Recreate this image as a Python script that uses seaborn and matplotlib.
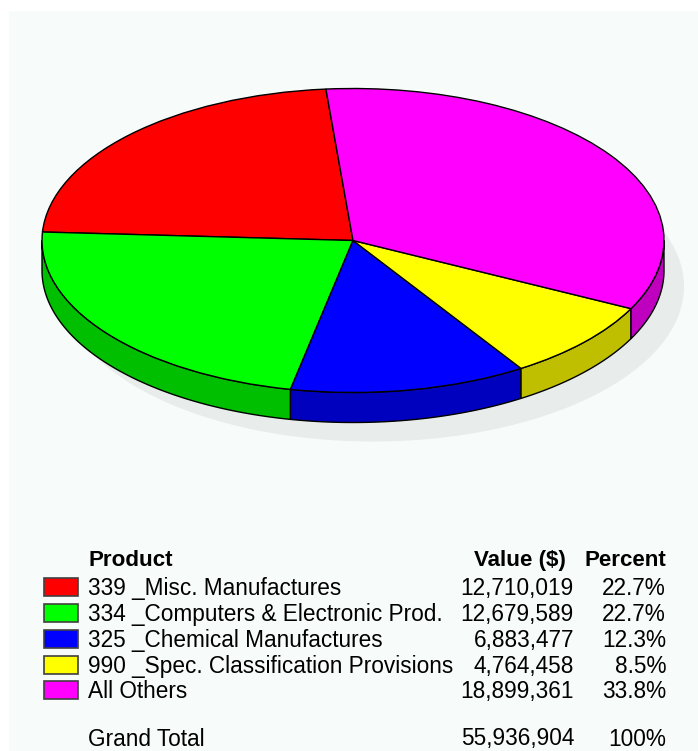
import numpy as np
import matplotlib
matplotlib.use("Agg")
import matplotlib.pyplot as plt
from matplotlib.patches import Ellipse, Polygon, Rectangle
import seaborn as sns

products = ["339 _Misc. Manufactures", "334 _Computers & Electronic Prod.",
            "325 _Chemical Manufactures", "990 _Spec. Classification Provisions",
            "All Others"]
values = [12710019, 12679589, 6883477, 4764458, 18899361]
slice_colors = ["#FF0000", "#00FF00", "#0000FF", "#FFFF00", "#FF00FF"]
headers = ["Product", "Value ($)", "Percent"]
total_label = "Grand Total"

WIDTH, HEIGHT = 698, 751
PANEL = "#F7FBF9"
SHADOW = "#E8ECEA"
START_ANGLE = 95.0
CX, CY, RX, RY = 353, 240.5, 311, 152
DEPTH = 30

sns.set_theme(style="white")
plt.rcParams["font.family"] = ["Liberation Sans", "DejaVu Sans"]
palette = sns.color_palette(slice_colors)

fig = plt.figure(figsize=(WIDTH / 100, HEIGHT / 100), dpi=100, facecolor="white")

# Page layer in pixel units: panel, legend swatches and the table text
page = fig.add_axes([0, 0, 1, 1], zorder=0)
page.set_xlim(0, WIDTH)
page.set_ylim(HEIGHT, 0)
page.axis("off")
page.add_patch(Rectangle((9, 11), WIDTH - 9, HEIGHT - 11, facecolor=PANEL, edgecolor="none"))

# Pie layer: a unit circle stretched by the axes box into a tilted ellipse
pie_ax = fig.add_axes([(CX - RX) / WIDTH, 1 - (CY + RY) / HEIGHT,
                       2 * RX / WIDTH, 2 * RY / HEIGHT], zorder=1)
pie_ax.patch.set_alpha(0)

pie_ax.add_patch(Ellipse((20 / RX, -46 / RY), 2, 2 * 155 / RY,
                         facecolor=SHADOW, edgecolor="none", clip_on=False, zorder=0))

# Rim of the disc: only the front half of each slice faces the viewer
drop = DEPTH / RY
shares = np.array(values) / sum(values)
edges = START_ANGLE + 360 * np.concatenate([[0], np.cumsum(shares)])
for color, a0, a1 in zip(palette, edges[:-1], edges[1:]):
    dark = tuple(0.75 * c for c in color)
    for lo, hi in [(180, 360), (540, 720)]:
        s, e = max(a0, lo), min(a1, hi)
        if s >= e:
            continue
        t = np.radians(np.linspace(s, e, 80))
        upper = np.column_stack([np.cos(t), np.sin(t)])
        lower = upper[::-1] - [0, drop]
        pie_ax.add_patch(Polygon(np.vstack([upper, lower]), closed=True, facecolor=dark,
                                 edgecolor="black", linewidth=1.0, clip_on=False, zorder=1))

wedges, _ = pie_ax.pie(values, colors=palette, startangle=START_ANGLE, counterclock=True,
                       radius=1, wedgeprops={"edgecolor": "black", "linewidth": 1.0})
for w in wedges:
    w.set_clip_on(False)
    w.set_zorder(2)
pie_ax.set_aspect("auto")
pie_ax.set_xlim(-1, 1)
pie_ax.set_ylim(-1, 1)
pie_ax.axis("off")

# Table below the pie, placed by text baseline so the rows stay evenly spaced
FS = 16.3
LABEL_X, VALUE_X, PCT_X = 88, 574, 666
common = {"fontsize": FS, "color": "black", "va": "baseline"}
head = dict(common, fontweight="bold", fontsize=16.1)
page.text(LABEL_X, 566, headers[0], ha="left", **head)
page.text(566, 566, headers[1], ha="right", **head)
page.text(PCT_X, 566, headers[2], ha="right", **head)

baselines = [595, 621, 647, 673, 698]
for y, name, val, share, color in zip(baselines, products, values, shares, palette):
    page.add_patch(Rectangle((43.5, y - 17.5), 34.5, 18, facecolor=color,
                             edgecolor="#404040", linewidth=1.2))
    page.text(LABEL_X, y, name, ha="left", **common)
    page.text(VALUE_X, y, f"{val:,}", ha="right", **common)
    page.text(PCT_X, y, f"{100 * share:.1f}%", ha="right", **common)

TOTAL_Y = 745.5
page.text(LABEL_X, TOTAL_Y, total_label, ha="left", **common)
page.text(VALUE_X, TOTAL_Y, f"{sum(values):,}", ha="right", **common)
page.text(PCT_X, TOTAL_Y, "100%", ha="right", **common)

fig.savefig("out.png", dpi=100, facecolor="white")
